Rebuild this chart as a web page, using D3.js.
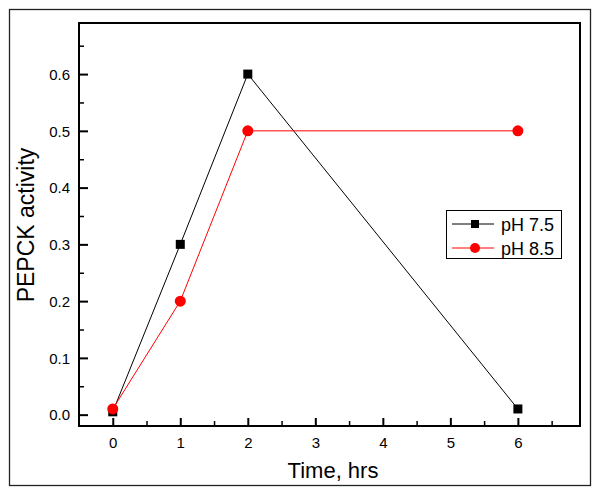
<!DOCTYPE html>
<html>
<head>
<meta charset="utf-8">
<script src="https://cdn.jsdelivr.net/npm/d3@7"></script>
<style>
html,body{margin:0;padding:0;background:#fff;}
svg{display:block;}
</style>
</head>
<body>
<svg id="chart" width="601" height="495"></svg>
<script>
const timeHrs = [0, 1, 2, 6];
const ph75 = [0.005, 0.3, 0.6, 0.01];
const ph85 = [0.01, 0.2, 0.5, 0.5];
const seriesNames = ["pH 7.5", "pH 8.5"];
const xTicks = [0, 1, 2, 3, 4, 5, 6];
const yTicks = [0.0, 0.1, 0.2, 0.3, 0.4, 0.5, 0.6];

const FONT = "Liberation Sans, Arial, sans-serif";
const svg = d3.select("#chart");
const L = 79, R = 580, T = 23, B = 426;

const x = d3.scaleLinear().domain([-0.5, 6.92]).range([L, R]);
const y = d3.scaleLinear().domain([-0.02, 0.69]).range([B, T]);

// outer border
svg.append("rect").attr("x", 9.5).attr("y", 9.5).attr("width", 581).attr("height", 476)
  .attr("fill", "none").attr("stroke", "#222").attr("stroke-width", 1.3);

// frame
svg.append("rect").attr("x", L).attr("y", T).attr("width", R - L).attr("height", B - T)
  .attr("fill", "none").attr("stroke", "#000").attr("stroke-width", 2);

// x axis
const xMinor = d3.range(-0.5, 6.92, 0.5).filter(v => !xTicks.includes(v) && v > -0.5);
const gx = svg.append("g").attr("transform", `translate(0,${B})`)
  .call(d3.axisBottom(x).tickValues(xTicks).tickSize(-8).tickFormat(d3.format("d")));
gx.attr("font-size", 15).attr("font-family", FONT);
gx.select(".domain").remove();
gx.selectAll(".tick line").attr("stroke", "#000").attr("stroke-width", 2);
gx.selectAll(".tick text").attr("y", 11).attr("dy", "0.71em").attr("fill", "#000");
const gxm = svg.append("g").attr("transform", `translate(0,${B})`)
  .call(d3.axisBottom(x).tickValues(xMinor).tickSize(-5).tickFormat(""));
gxm.select(".domain").remove();
gxm.selectAll(".tick line").attr("stroke", "#000").attr("stroke-width", 1.5);

// y axis
const yMinor = [0.05, 0.15, 0.25, 0.35, 0.45, 0.55, 0.65];
const gy = svg.append("g").attr("transform", `translate(${L},0)`)
  .call(d3.axisLeft(y).tickValues(yTicks).tickSize(-9).tickFormat(d3.format(".1f")));
gy.attr("font-size", 15).attr("font-family", FONT);
gy.select(".domain").remove();
gy.selectAll(".tick line").attr("stroke", "#000").attr("stroke-width", 2);
gy.selectAll(".tick text").attr("x", -9).attr("dy", "0.35em").attr("fill", "#000");
const gym = svg.append("g").attr("transform", `translate(${L},0)`)
  .call(d3.axisLeft(y).tickValues(yMinor).tickSize(-5).tickFormat(""));
gym.select(".domain").remove();
gym.selectAll(".tick line").attr("stroke", "#000").attr("stroke-width", 1.5);

// titles
svg.append("text").attr("x", 333).attr("y", 478).attr("text-anchor", "middle")
  .attr("font-family", FONT).attr("font-size", 22).text("Time, hrs");
svg.append("text").attr("transform", "translate(34,225) rotate(-90)").attr("text-anchor", "middle")
  .attr("font-family", FONT).attr("font-size", 23).text("PEPCK activity");

const line = d3.line().x(d => x(d[0])).y(d => y(d[1]));
const d75 = timeHrs.map((t, i) => [t, ph75[i]]);
const d85 = timeHrs.map((t, i) => [t, ph85[i]]);

svg.append("path").attr("d", line(d75)).attr("fill", "none").attr("stroke", "#000").attr("stroke-width", 1);
svg.append("path").attr("d", line(d85)).attr("fill", "none").attr("stroke", "#ff0000").attr("stroke-width", 1);

svg.selectAll(".sq").data(d75).enter().append("rect")
  .attr("x", d => x(d[0]) - 4.5).attr("y", d => y(d[1]) - 4.5)
  .attr("width", 9).attr("height", 9).attr("fill", "#000");
svg.selectAll(".ci").data(d85).enter().append("circle")
  .attr("cx", d => x(d[0])).attr("cy", d => y(d[1])).attr("r", 5.5).attr("fill", "#ff0000");

// legend
const lg = svg.append("g").attr("font-family", FONT);
lg.append("rect").attr("x", 446.5).attr("y", 210.5).attr("width", 115).attr("height", 48)
  .attr("fill", "#fff").attr("stroke", "#000").attr("stroke-width", 1);
lg.append("line").attr("x1", 452).attr("x2", 494).attr("y1", 224).attr("y2", 224).attr("stroke", "#000");
lg.append("rect").attr("x", 471).attr("y", 220).attr("width", 8).attr("height", 8).attr("fill", "#000");
lg.append("text").attr("x", 501).attr("y", 231).attr("font-size", 18).text(seriesNames[0]);
lg.append("line").attr("x1", 452).attr("x2", 494).attr("y1", 248).attr("y2", 248).attr("stroke", "#ff0000");
lg.append("circle").attr("cx", 475).attr("cy", 248).attr("r", 5).attr("fill", "#ff0000");
lg.append("text").attr("x", 501).attr("y", 255).attr("font-size", 18).text(seriesNames[1]);
</script>
</body>
</html>
